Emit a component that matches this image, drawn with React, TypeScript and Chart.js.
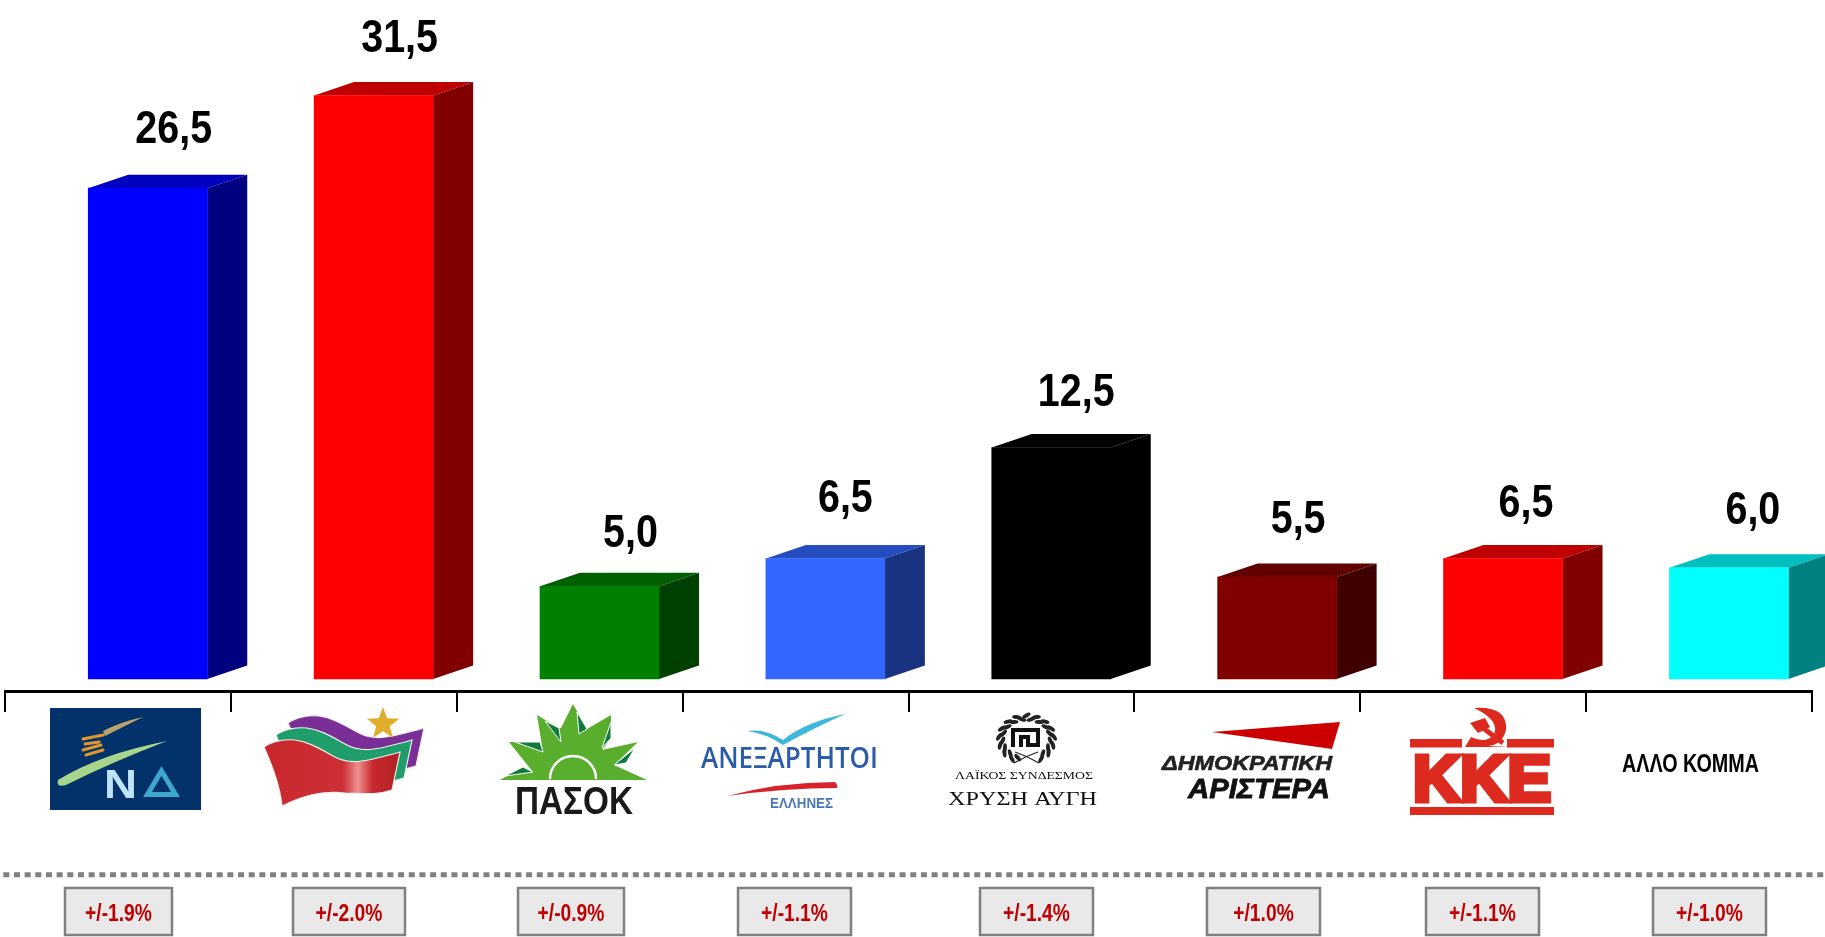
import React, { useEffect, useRef } from "react";
import { Chart, registerables } from "chart.js";

Chart.register(...registerables);

const categories = ["ΝΔ", "ΣΥΡΙΖΑ", "ΠΑΣΟΚ", "ΑΝΕΞΑΡΤΗΤΟΙ ΕΛΛΗΝΕΣ", "ΧΡΥΣΗ ΑΥΓΗ", "ΔΗΜΟΚΡΑΤΙΚΗ ΑΡΙΣΤΕΡΑ", "ΚΚΕ", "ΑΛΛΟ ΚΟΜΜΑ"];
const values = [26.5, 31.5, 5.0, 6.5, 12.5, 5.5, 6.5, 6.0];
const margins = ["+/-1.9%", "+/-2.0%", "+/-0.9%", "+/-1.1%", "+/-1.4%", "+/1.0%", "+/-1.1%", "+/-1.0%"];
const frontColors = ["#0000FF", "#FF0000", "#008000", "#3366FF", "#000000", "#800000", "#FF0000", "#00FFFF"];

// layout constants (not data)
const BAR_SHIFT = 0.132;
const DEPTH_X = 40;
const DEPTH_Y = 13.5;
const LABEL_NUDGE: [number, number][] = [[26, 45], [26, 44], [31, 39], [20, 47], [25, 41], [21, 44], [23, 42], [24, 44]];
const BOX_EDGES: [number, number][] = [[64, 173], [292, 406], [517, 625], [737, 852], [979, 1094], [1206, 1321], [1425, 1540], [1652, 1767]];

const shade = (hex: string, f: number) => {
  const n = parseInt(hex.slice(1), 16);
  const c = (v: number) => Math.round(v * f).toString(16).padStart(2, "0");
  return "#" + c((n >> 16) & 255) + c((n >> 8) & 255) + c(n & 255);
};

const SANS = '"Liberation Sans", Arial, sans-serif';
const SERIF = '"Liberation Serif", serif';

// text fitted to a target width by horizontal scaling
function fitText(ctx: CanvasRenderingContext2D, text: string, cx: number, baseline: number, font: string, width: number, color: string, stroke = 0) {
  ctx.save();
  ctx.font = font;
  ctx.fillStyle = color;
  ctx.textAlign = "center";
  ctx.textBaseline = "alphabetic";
  const m = ctx.measureText(text).width;
  ctx.translate(cx, baseline);
  ctx.scale(width / m, 1);
  if (stroke) {
    ctx.strokeStyle = color;
    ctx.lineWidth = stroke;
    ctx.lineJoin = "miter";
    ctx.strokeText(text, 0, 0);
  }
  ctx.fillText(text, 0, 0);
  ctx.restore();
}

function narrowText(ctx: CanvasRenderingContext2D, text: string, cx: number, baseline: number, font: string, color: string, sx: number) {
  ctx.save();
  ctx.font = font;
  ctx.fillStyle = color;
  ctx.textAlign = "center";
  ctx.textBaseline = "alphabetic";
  ctx.translate(cx, baseline);
  ctx.scale(sx, 1);
  ctx.fillText(text, 0, 0);
  ctx.restore();
}

const fillP = (ctx: CanvasRenderingContext2D, d: string, c: string | CanvasGradient) => {
  ctx.fillStyle = c;
  ctx.fill(new Path2D(d));
};

function star(ctx: CanvasRenderingContext2D, cx: number, cy: number, r: number, color: string) {
  ctx.beginPath();
  for (let i = 0; i < 10; i++) {
    const a = -Math.PI / 2 + (i * Math.PI) / 5;
    const rr = i % 2 ? r * 0.42 : r;
    ctx.lineTo(cx + rr * Math.cos(a), cy + rr * Math.sin(a));
  }
  ctx.closePath();
  ctx.fillStyle = color;
  ctx.fill();
}

function logoND(ctx: CanvasRenderingContext2D) {
  ctx.fillStyle = "#03326A";
  ctx.fillRect(50, 708, 151, 102);
  fillP(ctx, "M58 780 Q100 754 167 741 Q112 762 66 785 Q56 788 58 780Z", "#A8D48C");
  fillP(ctx, "M103 731 Q120 722 143 717 Q125 726 105 736Z", "#B9A36A");
  ctx.save();
  ctx.strokeStyle = "#E0962E";
  ctx.lineWidth = 3;
  ctx.lineCap = "round";
  [[83, 739, 103, 735], [85, 744, 99, 742], [83, 750, 101, 745], [86, 755, 103, 750]].forEach(([a, b, c, d]) => {
    ctx.beginPath();
    ctx.moveTo(a, b);
    ctx.lineTo(c, d);
    ctx.stroke();
  });
  ctx.restore();
  fitText(ctx, "Ν", 120.5, 798, `bold 41px ${SANS}`, 33, "#BFE4F7");
  ctx.save();
  ctx.strokeStyle = "#3DA7CF";
  ctx.lineWidth = 5;
  ctx.beginPath();
  ctx.moveTo(161.5, 771);
  ctx.lineTo(175.5, 794.5);
  ctx.lineTo(147.5, 794.5);
  ctx.closePath();
  ctx.stroke();
  ctx.restore();
}

function logoSyriza(ctx: CanvasRenderingContext2D) {
  const flag = "M264 747 C272 741 285 739 295 740 C310 742 322 750 335 757 C350 765 365 762 400 752 L392 790 C375 796 360 793 345 793 C320 790 300 797 282 806 C280 785 272 765 264 747Z";
  const layer = (dx: number, dy: number, c: string | CanvasGradient) => {
    ctx.save();
    ctx.translate(dx, dy);
    const p = new Path2D(flag);
    ctx.fillStyle = c;
    ctx.fill(p);
    ctx.strokeStyle = "#F2EEEE";
    ctx.lineWidth = 1.2;
    ctx.stroke(p);
    ctx.restore();
  };
  layer(24, -24, "#7A2F97");
  layer(12, -12, "#1F9E6C");
  const g = ctx.createLinearGradient(264, 0, 400, 0);
  g.addColorStop(0, "#C8282C");
  g.addColorStop(0.58, "#CC3035");
  g.addColorStop(0.69, "#EE9090");
  g.addColorStop(0.8, "#C8282C");
  g.addColorStop(1, "#B02226");
  layer(0, 0, g);
  star(ctx, 383, 724, 17, "#E0AE2C");
}

function logoPasok(ctx: CanvasRenderingContext2D) {
  fillP(ctx, "M500 780 L523 767 L533 772 L509 742 L540 742 L543 752 L537 715 L559 728 L561 728 L573 704 L587 729 L611 715 L611 738 L602 750 L638 742 L614 765 L647 780Z", "#5AAE2D");
  const facets = [
    "M505 776 L523 767 L533 772Z",
    "M515 742 L540 742 L543 752Z",
    "M545 721 L559 728 L561 742Z",
    "M577 712 L587 729 L579 734Z",
    "M611 722 L611 738 L602 748Z",
    "M635 748 L626 763 L614 765Z",
  ];
  ctx.save();
  ctx.strokeStyle = "#FFFFFF";
  ctx.lineWidth = 1;
  facets.forEach((d) => {
    const p = new Path2D(d);
    ctx.fillStyle = "#0F7A3A";
    ctx.fill(p);
    ctx.stroke(p);
  });
  ctx.lineWidth = 2.5;
  ctx.beginPath();
  ctx.arc(573, 779, 23, Math.PI, 0);
  ctx.stroke();
  ctx.restore();
  fitText(ctx, "ΠΑΣΟΚ", 574, 814, `bold 38px ${SANS}`, 118, "#1A1A1A");
}

function logoAnel(ctx: CanvasRenderingContext2D) {
  fillP(ctx, "M747 731 Q765 728 783 740 Q805 722 845 714 Q810 730 783 745 Q765 733 747 731Z", "#3DB8DC");
  fitText(ctx, "ΑΝΕΞΑΡΤΗΤΟΙ", 789.5, 768, `600 28px "Open Sans", ${SANS}`, 177, "#2A5CAA");
  fillP(ctx, "M727 796 Q780 782 835 782 Q838 785 837 788 Q785 788 727 796Z", "#D8232A");
  fitText(ctx, "ΕΛΛΗΝΕΣ", 801.5, 808, `bold 14px ${SANS}`, 63, "#4A78B8");
}

function logoGoldenDawn(ctx: CanvasRenderingContext2D) {
  ctx.save();
  ctx.fillStyle = "#222";
  const cx = 1026.5;
  const cy = 739;
  for (let i = 0; i < 30; i++) {
    const a = Math.PI * 0.62 + (i / 30) * Math.PI * 1.76;
    const left = i < 15;
    const rx = 25 + (i % 2 ? 2.5 : -1);
    const ry = 21 + (i % 2 ? 2.5 : -1);
    ctx.beginPath();
    ctx.ellipse(cx + rx * Math.cos(a), cy + ry * Math.sin(a), 4.5, 2, a + Math.PI / 2 + (left ? 0.5 : -0.5), 0, Math.PI * 2);
    ctx.fill();
  }
  ctx.strokeStyle = "#222";
  ctx.lineWidth = 1.2;
  ctx.beginPath();
  ctx.moveTo(1015, 752);
  ctx.quadraticCurveTo(1027, 756, 1039, 763);
  ctx.moveTo(1038, 752);
  ctx.quadraticCurveTo(1026, 756, 1014, 763);
  ctx.stroke();
  ctx.strokeStyle = "#111";
  ctx.lineWidth = 4;
  ctx.beginPath();
  ctx.moveTo(1013, 747);
  ctx.lineTo(1013, 730);
  ctx.lineTo(1038, 730);
  ctx.lineTo(1038, 745);
  ctx.lineTo(1028, 745);
  ctx.lineTo(1028, 737);
  ctx.lineTo(1021, 737);
  ctx.lineTo(1021, 747);
  ctx.stroke();
  ctx.restore();
  fitText(ctx, "ΛΑΪΚΟΣ ΣΥΝΔΕΣΜΟΣ", 1024, 779, `11px ${SERIF}`, 138, "#111");
  fitText(ctx, "ΧΡΥΣΗ ΑΥΓΗ", 1022.5, 804.5, `19px ${SERIF}`, 149, "#111");
}

function logoDimar(ctx: CanvasRenderingContext2D) {
  fillP(ctx, "M1212 732 L1340 722 L1332 749Z", "#CC0000");
  fitText(ctx, "ΔΗΜΟΚΡΑΤΙΚΗ", 1247, 770, `italic bold 21px ${SANS}`, 170, "#222", 0.6);
  fitText(ctx, "ΑΡΙΣΤΕΡΑ", 1259, 798, `italic bold 28px ${SANS}`, 142, "#111", 0.8);
}

function logoKke(ctx: CanvasRenderingContext2D) {
  const red = "#DD2A1F";
  ctx.fillStyle = red;
  ctx.fillRect(1410, 739, 52, 8.5);
  ctx.fillRect(1507, 739, 47, 8.5);
  ctx.fillRect(1410, 807, 144, 8);
  fitText(ctx, "ΚΚΕ", 1482, 800.5, `bold 64px ${SANS}`, 138, red, 5);
  // hammer and sickle
  fillP(ctx, "M1474 708 Q1508 706 1506 730 Q1502 745 1488 746 L1510 747 L1465 747 L1471 737 Q1485 744 1494 735 Q1500 720 1474 708Z", red);
  fillP(ctx, "M1470 723 L1485 718 L1490 727 L1478 733Z", red);
  ctx.save();
  ctx.strokeStyle = red;
  ctx.lineWidth = 5;
  ctx.beginPath();
  ctx.moveTo(1483, 728);
  ctx.lineTo(1503, 743);
  ctx.stroke();
  ctx.restore();
}

const decorPlugin = {
  id: "decor",
  beforeDatasetsDraw(chart: any) {
    // 3D faces of each bar
    const ctx = chart.ctx;
    const meta = chart.getDatasetMeta(0);
    meta.data.forEach((bar: any, i: number) => {
      const { x, y, base, width } = bar.getProps(["x", "y", "base", "width"], true);
      const l = x - width / 2;
      const r = x + width / 2;
      ctx.fillStyle = shade(frontColors[i], 0.75);
      ctx.beginPath();
      ctx.moveTo(l, y);
      ctx.lineTo(l + DEPTH_X, y - DEPTH_Y);
      ctx.lineTo(r + DEPTH_X, y - DEPTH_Y);
      ctx.lineTo(r, y);
      ctx.closePath();
      ctx.fill();
      ctx.fillStyle = shade(frontColors[i], 0.5);
      ctx.beginPath();
      ctx.moveTo(r, y);
      ctx.lineTo(r + DEPTH_X, y - DEPTH_Y);
      ctx.lineTo(r + DEPTH_X, base - DEPTH_Y);
      ctx.lineTo(r, base);
      ctx.closePath();
      ctx.fill();
    });
  },
  afterDraw(chart: any) {
    const ctx: CanvasRenderingContext2D = chart.ctx;
    const meta = chart.getDatasetMeta(0);
    // value labels
    meta.data.forEach((bar: any, i: number) => {
      const { x, y } = bar.getProps(["x", "y"], true);
      narrowText(ctx, values[i].toFixed(1).replace(".", ","), x + LABEL_NUDGE[i][0], y - LABEL_NUDGE[i][1], `bold 47px ${SANS}`, "#000", 0.84);
    });
    // logos
    logoND(ctx);
    logoSyriza(ctx);
    logoPasok(ctx);
    logoAnel(ctx);
    logoGoldenDawn(ctx);
    logoDimar(ctx);
    logoKke(ctx);
    fitText(ctx, categories[7], 1690.5, 772, `bold 25px ${SANS}`, 137, "#000");
    // dotted separator
    ctx.save();
    ctx.strokeStyle = "#808080";
    ctx.lineWidth = 5;
    ctx.setLineDash([6, 4.67]);
    ctx.beginPath();
    ctx.moveTo(3.3, 874.7);
    ctx.lineTo(1825, 874.7);
    ctx.stroke();
    ctx.restore();
    // margin-of-error boxes
    margins.forEach((m, i) => {
      const [l, r] = BOX_EDGES[i];
      ctx.fillStyle = "#E9E9E9";
      ctx.fillRect(l + 1, 888, r - l - 2, 47);
      ctx.strokeStyle = "#808080";
      ctx.lineWidth = 2.5;
      ctx.strokeRect(l + 1, 888, r - l - 2, 47);
      narrowText(ctx, m, (l + r) / 2, 920.5, `bold 23px ${SANS}`, "#C00000", 0.838);
    });
  },
};

export default function App() {
  const ref = useRef<HTMLCanvasElement>(null);
  useEffect(() => {
    const chart = new Chart(ref.current!, {
      type: "bar",
      data: {
        datasets: [
          {
            label: "%",
            data: values.map((v, i) => ({ x: i + BAR_SHIFT, y: v })),
            backgroundColor: frontColors,
            barThickness: 119,
            borderWidth: 0,
          },
        ],
      },
      options: {
        responsive: false,
        animation: false,
        layout: { padding: { left: 5, right: 13, top: 0, bottom: 225 } },
        plugins: { legend: { display: false }, tooltip: { enabled: false } },
        scales: {
          x: {
            type: "linear",
            min: -0.5,
            max: 7.5,
            offset: false,
            afterBuildTicks(scale: any) {
              scale.ticks = categories.concat("").map((_, i) => ({ value: i - 0.5 }));
            },
            ticks: { display: false },
            grid: { display: true, offset: false, drawOnChartArea: false, drawTicks: true, tickLength: 21, color: "#000", lineWidth: 2 },
            border: { display: true, color: "#000", width: 3 },
          },
          y: { display: false, min: -0.65, max: 36.66 },
        },
      },
      plugins: [decorPlugin],
    } as any);
    return () => chart.destroy();
  }, []);
  return (
    <div style={{ position: "absolute", left: 0, top: 0, width: 1825, height: 937, background: "#fff", overflow: "hidden" }}>
      <canvas ref={ref} width={1825} height={937} style={{ display: "block" }} />
    </div>
  );
}
